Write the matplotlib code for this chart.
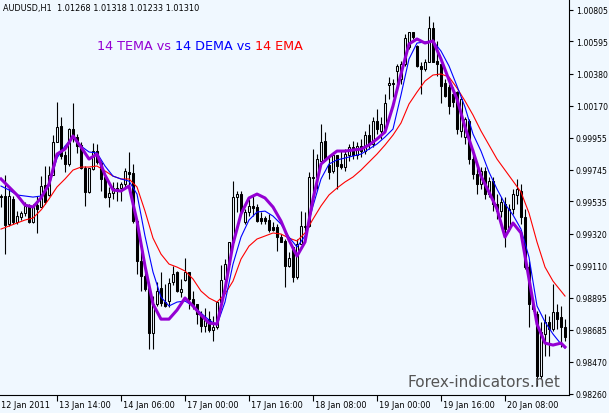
import numpy as np
import matplotlib
matplotlib.use('Agg')
import matplotlib.pyplot as plt
import matplotlib.transforms as mtransforms

# AUDUSD H1 candles, bar 0 = leftmost bar
opens = [
    0.99570, 0.99570, 0.99384, 0.99550, 0.99398, 0.99431, 0.99457, 0.99504, 0.99398, 0.99510,
    0.99497, 0.99643, 0.99577, 0.99709, 0.99928, 1.00034, 0.99842, 0.99782, 1.00014, 0.99961,
    0.99908, 0.99756, 0.99596, 0.99749, 0.99868, 0.99789, 0.99696, 0.99563, 0.99590, 0.99623,
    0.99623, 0.99649, 0.99729, 0.99722, 0.99404, 0.99139, 0.99039, 0.98960, 0.98662, 0.98854,
    0.98960, 0.98867, 0.98874, 0.99000, 0.99066, 0.98933, 0.99013, 0.99066, 0.98887, 0.98854,
    0.98788, 0.98708, 0.98754, 0.98681, 0.98701, 0.98867, 0.99020, 0.99119, 0.99265, 0.99563,
    0.99583, 0.99398, 0.99464, 0.99504, 0.99497, 0.99424, 0.99424, 0.99411, 0.99364, 0.99364,
    0.99298, 0.99272, 0.99106, 0.99232, 0.99033, 0.99252, 0.99364, 0.99371, 0.99689, 0.99696,
    0.99802, 0.99935, 0.99775, 0.99736, 0.99842, 0.99782, 0.99762, 0.99842, 0.99895, 0.99842,
    0.99901, 0.99868, 0.99974, 0.99915, 1.00067, 1.00001, 1.00014, 1.00306, 1.00319, 1.00399,
    1.00346, 1.00445, 1.00558, 1.00657, 1.00564, 1.00432, 1.00412, 1.00458, 1.00684, 1.00465,
    1.00445, 1.00319, 1.00293, 1.00246, 1.00259, 1.00001, 0.99961, 1.00067, 0.99815, 0.99716,
    0.99649, 0.99736, 0.99583, 0.99669, 0.99517, 0.99470, 0.99517, 0.99351, 0.99484, 0.99577,
    0.99603, 0.99431, 0.99099, 0.98854, 0.98788, 0.98376, 0.98655, 0.98735, 0.98688, 0.98801,
    0.98768, 0.98701]
highs = [
    0.99583, 0.99709, 0.99636, 0.99570, 0.99470, 0.99470, 0.99530, 0.99517, 0.99517, 0.99570,
    0.99702, 0.99769, 0.99769, 0.99974, 1.00193, 1.00094, 0.99868, 1.00021, 1.00186, 0.99981,
    0.99928, 0.99769, 0.99756, 0.99921, 0.99915, 0.99802, 0.99702, 0.99630, 0.99663, 0.99663,
    0.99663, 0.99756, 0.99862, 0.99782, 0.99417, 0.99205, 0.99073, 0.98960, 0.98907, 0.99000,
    0.99066, 0.98986, 0.99026, 0.99106, 0.99073, 0.99020, 0.99159, 0.99066, 0.98940, 0.98854,
    0.98807, 0.98827, 0.98807, 0.98774, 0.98867, 0.99112, 0.99152, 0.99265, 0.99669, 0.99603,
    0.99603, 0.99484, 0.99550, 0.99570, 0.99517, 0.99464, 0.99437, 0.99451, 0.99398, 0.99384,
    0.99318, 0.99285, 0.99199, 0.99232, 0.99285, 0.99470, 0.99464, 0.99729, 0.99881, 0.99848,
    1.00047, 0.99994, 0.99835, 0.99862, 0.99842, 0.99868, 0.99881, 0.99915, 0.99935, 0.99928,
    0.99948, 1.00001, 1.00047, 1.00094, 1.00147, 1.00094, 1.00246, 1.00359, 1.00346, 1.00445,
    1.00465, 1.00644, 1.00657, 1.00657, 1.00571, 1.00458, 1.00478, 1.00763, 1.00724, 1.00598,
    1.00445, 1.00346, 1.00312, 1.00293, 1.00266, 1.00226, 1.00094, 1.00080, 0.99881, 0.99782,
    0.99762, 0.99762, 0.99696, 0.99696, 0.99583, 0.99563, 0.99563, 0.99517, 0.99616, 0.99683,
    0.99649, 0.99484, 0.99139, 0.98887, 0.98807, 0.98735, 0.98788, 0.98774, 0.98986, 0.98854,
    0.98841, 0.98754]
lows = [
    0.99497, 0.99185, 0.99371, 0.99384, 0.99384, 0.99411, 0.99437, 0.99391, 0.99391, 0.99325,
    0.99497, 0.99517, 0.99570, 0.99709, 0.99928, 0.99815, 0.99729, 0.99769, 0.99928, 0.99855,
    0.99749, 0.99504, 0.99590, 0.99742, 0.99782, 0.99603, 0.99557, 0.99497, 0.99550, 0.99537,
    0.99537, 0.99630, 0.99636, 0.99391, 0.99053, 0.98940, 0.98940, 0.98555, 0.98555, 0.98841,
    0.98841, 0.98834, 0.98834, 0.98980, 0.98933, 0.98900, 0.99006, 0.98821, 0.98821, 0.98721,
    0.98668, 0.98668, 0.98668, 0.98609, 0.98688, 0.98867, 0.98967, 0.99112, 0.99265, 0.99464,
    0.99451, 0.99384, 0.99437, 0.99437, 0.99398, 0.99384, 0.99384, 0.99331, 0.99338, 0.99205,
    0.99265, 0.98967, 0.99099, 0.99000, 0.99020, 0.99252, 0.99305, 0.99364, 0.99570, 0.99616,
    0.99795, 0.99802, 0.99683, 0.99722, 0.99616, 0.99749, 0.99736, 0.99802, 0.99815, 0.99815,
    0.99828, 0.99848, 0.99881, 0.99895, 0.99981, 0.99948, 1.00001, 1.00213, 1.00226, 1.00299,
    1.00312, 1.00432, 1.00544, 1.00611, 1.00425, 1.00246, 1.00399, 1.00458, 1.00458, 1.00365,
    1.00186, 1.00226, 1.00114, 1.00160, 0.99981, 0.99961, 0.99915, 0.99782, 0.99683, 0.99583,
    0.99616, 0.99550, 0.99563, 0.99470, 0.99417, 0.99431, 0.99232, 0.99338, 0.99451, 0.99517,
    0.99384, 0.99086, 0.98701, 0.98807, 0.98310, 0.98357, 0.98509, 0.98509, 0.98675, 0.98688,
    0.98569, 0.98609]
closes = [
    0.99563, 0.99378, 0.99570, 0.99398, 0.99437, 0.99457, 0.99504, 0.99398, 0.99497, 0.99484,
    0.99636, 0.99530, 0.99709, 0.99928, 1.00027, 0.99835, 0.99782, 1.00014, 0.99961, 0.99901,
    0.99756, 0.99596, 0.99756, 0.99868, 0.99795, 0.99683, 0.99563, 0.99590, 0.99623, 0.99616,
    0.99649, 0.99736, 0.99716, 0.99404, 0.99139, 0.99039, 0.98953, 0.98662, 0.98854, 0.98940,
    0.98860, 0.98841, 0.98993, 0.99053, 0.98940, 0.98953, 0.99066, 0.98887, 0.98847, 0.98788,
    0.98708, 0.98748, 0.98681, 0.98701, 0.98867, 0.99013, 0.99119, 0.99265, 0.99563, 0.99583,
    0.99464, 0.99464, 0.99504, 0.99490, 0.99404, 0.99404, 0.99404, 0.99344, 0.99344, 0.99298,
    0.99265, 0.99106, 0.99159, 0.99033, 0.99252, 0.99371, 0.99371, 0.99696, 0.99696, 0.99815,
    0.99928, 0.99815, 0.99729, 0.99842, 0.99769, 0.99762, 0.99848, 0.99895, 0.99842, 0.99901,
    0.99868, 0.99974, 0.99915, 1.00067, 1.00014, 1.00047, 1.00186, 1.00319, 1.00312, 1.00432,
    1.00445, 1.00617, 1.00657, 1.00624, 1.00432, 1.00412, 1.00458, 1.00684, 1.00458, 1.00445,
    1.00299, 1.00233, 1.00167, 1.00193, 1.00014, 1.00213, 1.00080, 0.99815, 0.99716, 0.99649,
    0.99736, 0.99583, 0.99669, 0.99517, 0.99470, 0.99530, 0.99351, 0.99484, 0.99583, 0.99616,
    0.99431, 0.99099, 0.98854, 0.98821, 0.98376, 0.98668, 0.98735, 0.98688, 0.98801, 0.98754,
    0.98701, 0.98635]

# indicator values read every second bar (plus the last bar)
ma_bars = list(range(0, 141, 2)) + [141]
tema = [
    0.99683, 0.99630, 0.99577, 0.99510, 0.99497, 0.99557, 0.99649, 0.99848, 0.99881, 0.99968,
    0.99895, 0.99815, 0.99848, 0.99709, 0.99610, 0.99603, 0.99636, 0.99404, 0.99106, 0.98854,
    0.98754, 0.98754, 0.98814, 0.98894, 0.98841, 0.98781, 0.98728, 0.98721, 0.98953, 0.99252,
    0.99451, 0.99557, 0.99583, 0.99557, 0.99497, 0.99404, 0.99278, 0.99172, 0.99265, 0.99550,
    0.99782, 0.99828, 0.99868, 0.99868, 0.99875, 0.99881, 0.99908, 0.99948, 0.99994, 1.00167,
    1.00379, 1.00578, 1.00611, 1.00584, 1.00598, 1.00478, 1.00339, 1.00213, 1.00027, 0.99868,
    0.99702, 0.99596, 0.99484, 0.99298, 0.99391, 0.99325, 0.99020, 0.98721, 0.98595, 0.98582,
    0.98595, 0.98569]
dema = [
    0.99636, 0.99610, 0.99577, 0.99570, 0.99563, 0.99570, 0.99636, 0.99822, 0.99901, 0.99961,
    0.99901, 0.99862, 0.99855, 0.99769, 0.99702, 0.99683, 0.99669, 0.99583, 0.99305, 0.99066,
    0.98900, 0.98841, 0.98867, 0.98874, 0.98841, 0.98794, 0.98748, 0.98715, 0.98867, 0.99119,
    0.99298, 0.99411, 0.99464, 0.99470, 0.99437, 0.99384, 0.99298, 0.99232, 0.99305, 0.99504,
    0.99683, 0.99782, 0.99809, 0.99822, 0.99835, 0.99848, 0.99881, 0.99915, 0.99961, 1.00014,
    1.00240, 1.00478, 1.00584, 1.00591, 1.00598, 1.00531, 1.00432, 1.00299, 1.00160, 0.99981,
    0.99868, 0.99729, 0.99616, 0.99517, 0.99444, 0.99351, 0.99165, 0.98841, 0.98735, 0.98655,
    0.98589, 0.98562]
ema = [
    0.99351, 0.99371, 0.99391, 0.99411, 0.99424, 0.99477, 0.99550, 0.99630, 0.99683, 0.99742,
    0.99762, 0.99762, 0.99769, 0.99736, 0.99702, 0.99683, 0.99683, 0.99630, 0.99470, 0.99291,
    0.99185, 0.99119, 0.99099, 0.99073, 0.99020, 0.98940, 0.98894, 0.98867, 0.98920, 0.99006,
    0.99152, 0.99238, 0.99285, 0.99305, 0.99325, 0.99318, 0.99291, 0.99272, 0.99325, 0.99417,
    0.99504, 0.99577, 0.99623, 0.99663, 0.99696, 0.99742, 0.99795, 0.99848, 0.99908, 0.99974,
    1.00054, 1.00180, 1.00259, 1.00332, 1.00372, 1.00379, 1.00359, 1.00286, 1.00200, 1.00107,
    1.00001, 0.99908, 0.99815, 0.99742, 0.99669, 0.99596, 0.99457, 0.99265, 0.99099, 0.99006,
    0.98940, 0.98907]

price_ticks = [1.00805, 1.00595, 1.00380, 1.00170, 0.99955, 0.99745, 0.99535,
               0.99320, 0.99110, 0.98895, 0.98685, 0.98470, 0.98260]
time_bars = [14, 30, 46, 62, 78, 94, 110, 126]
time_labels = ['13 Jan 14:00', '14 Jan 06:00', '17 Jan 00:00', '17 Jan 16:00',
               '18 Jan 08:00', '19 Jan 00:00', '19 Jan 16:00', '20 Jan 08:00']

bg = '#f0f8ff'
W, H = 609, 414
fig = plt.figure(figsize=(W / 100, H / 100), dpi=100, facecolor=bg)
ax = fig.add_axes([0, 18 / H, 569 / W, 396 / H])
ax.set_facecolor(bg)

o = np.array(opens)
h = np.array(highs)
l = np.array(lows)
c = np.array(closes)
x = np.arange(len(o))
up = c >= o

# candles
ax.vlines(x, l, h, color='black', linewidth=0.8, zorder=2)
ax.bar(x[up], (c - o)[up], bottom=o[up], width=0.5, facecolor=bg,
       edgecolor='black', linewidth=0.75, zorder=3)
ax.bar(x[~up], (o - c)[~up], bottom=c[~up], width=0.5, facecolor='black',
       edgecolor='black', linewidth=0.75, zorder=3)

# moving averages
ax.plot(ma_bars, ema, color='red', linewidth=0.8, zorder=4)
ax.plot(ma_bars, dema, color='blue', linewidth=0.8, zorder=5)
ax.plot(ma_bars, tema, color='#9400d3', linewidth=2.2, zorder=6)

ax.set_xlim(-0.25, 142)
ax.set_ylim(0.98251, 1.00876)

for s in ['top', 'left']:
    ax.spines[s].set_visible(False)
for s in ['right', 'bottom']:
    ax.spines[s].set_linewidth(0.8)

ax.yaxis.tick_right()
ax.set_yticks(price_ticks)
ax.set_yticklabels([f'{v:.5f}' for v in price_ticks])
ax.tick_params(axis='y', direction='out', length=3, width=0.8, labelsize=5.6, pad=2)
ax.set_xticks(time_bars)
ax.set_xticklabels([])
ax.tick_params(axis='x', direction='out', length=4, width=0.8)

trans = mtransforms.blended_transform_factory(ax.transData, ax.transAxes)
for b, lab in zip(time_bars, time_labels):
    ax.text(b + 0.4, -10 / 396, lab, transform=trans, ha='left', va='center', fontsize=5.9)
fig.text(1 / W, 1 - 406 / H, '12 Jan 2011', ha='left', va='center', fontsize=5.9)

fig.text(3 / W, 1 - 9 / H, 'AUDUSD,H1  1.01268 1.01318 1.01233 1.01310',
         ha='left', va='center', fontsize=5.9)

t1 = fig.text(97 / W, 1 - 46 / H, '14 TEMA vs', color='#9400d3', fontsize=9.2, va='center')
t2 = ax.annotate(' 14 DEMA vs', xycoords=t1, xy=(1, 0), va='bottom', color='blue', fontsize=9.2)
t3 = ax.annotate(' 14 EMA', xycoords=t2, xy=(1, 0), va='bottom', color='red', fontsize=9.2)

fig.text(560 / W, 1 - 383 / H, 'Forex-indicators.net', ha='right', va='center',
         fontsize=11, color='#555555')

fig.savefig('out.png', dpi=100, facecolor=bg)
